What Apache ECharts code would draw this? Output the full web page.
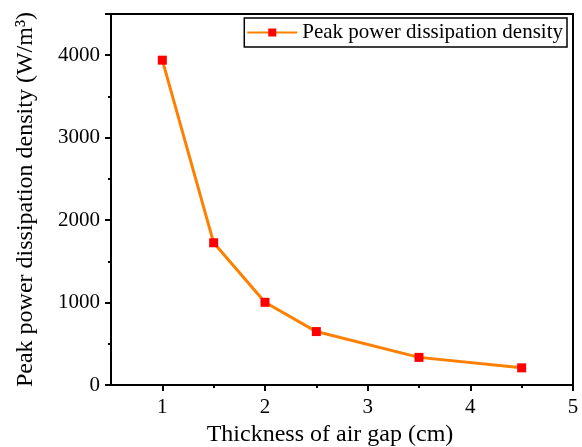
<!DOCTYPE html>
<html><head><meta charset="utf-8">
<script src="https://cdn.jsdelivr.net/npm/echarts@6/dist/echarts.min.js"></script>
<style>html,body{margin:0;padding:0;background:#fff}#c{width:582px;height:447px}</style>
</head><body><div id="c"></div>
<script>
const xValues = [1, 1.5, 2, 2.5, 3.5, 4.5];
const yValues = [3940, 1725, 1003, 648, 335, 208];
const xMajorTicks = [1, 2, 3, 4, 5];
const xMinorTicks = [1.5, 2.5, 3.5, 4.5];
const seriesName = 'Peak power dissipation density';
const xName = 'Thickness of air gap (cm)';
const yName = 'Peak power dissipation density (W/m³)';

const font = 'Liberation Serif, Times New Roman, serif';
const chart = echarts.init(document.getElementById('c'));
chart.setOption({
  animation: false,
  backgroundColor: '#fff',
  grid: { left: 111, right: 9, top: 14, bottom: 62, outerBoundsMode: 'none', containLabel: false,
    show: true, borderColor: '#000', borderWidth: 2, backgroundColor: 'transparent' },
  legend: {
    data: [{ name: seriesName }],
    right: 15, top: 18,
    orient: 'horizontal',
    itemWidth: 50, itemHeight: 10, itemGap: 5,
    padding: [4, 4, 4, 2],
    borderColor: '#000', borderWidth: 1.5,
    textStyle: { fontFamily: font, fontSize: 21, color: '#000' }
  },
  xAxis: [{
    type: 'value', min: 0.5, max: 5,
    name: xName, nameLocation: 'middle', nameGap: 36,
    nameTextStyle: { fontFamily: font, fontSize: 24, color: '#000', padding: [0, 24, 0, 0] },
    axisLine: { lineStyle: { color: '#000', width: 2 } },
    axisTick: { show: true, inside: false, length: 6, customValues: xMajorTicks, lineStyle: { color: '#000', width: 2 } },
    axisLabel: { fontFamily: font, fontSize: 21, color: '#000', margin: 12, customValues: xMajorTicks },
    splitLine: { show: false }
  }, {
    type: 'value', min: 0.5, max: 5, position: 'bottom',
    axisLine: { show: false },
    axisTick: { show: true, inside: false, length: 3, customValues: xMinorTicks, lineStyle: { color: '#000', width: 2 } },
    axisLabel: { show: false },
    splitLine: { show: false }
  }],
  yAxis: {
    type: 'value', min: 0, max: 4500, interval: 1000,
    name: yName, nameLocation: 'middle', nameGap: 73,
    nameTextStyle: { fontFamily: font, fontSize: 24, color: '#000' },
    axisLine: { lineStyle: { color: '#000', width: 2 } },
    axisTick: { show: true, inside: false, length: 6, lineStyle: { color: '#000', width: 2 } },
    minorTick: { show: true, splitNumber: 2, length: 3, lineStyle: { color: '#000', width: 2 } },
    axisLabel: { fontFamily: font, fontSize: 21, color: '#000', margin: 11,
      formatter: v => (v % 1000 === 0 ? String(v) : '') },
    splitLine: { show: false }
  },
  series: [{
    name: seriesName, type: 'line', xAxisIndex: 0,
    data: xValues.map((x, i) => [x, yValues[i]]),
    symbol: 'rect', symbolSize: 9,
    itemStyle: { color: '#ff0000' },
    lineStyle: { color: '#ff8000', width: 3 },
    z: 3
  }]
});
</script></body></html>
